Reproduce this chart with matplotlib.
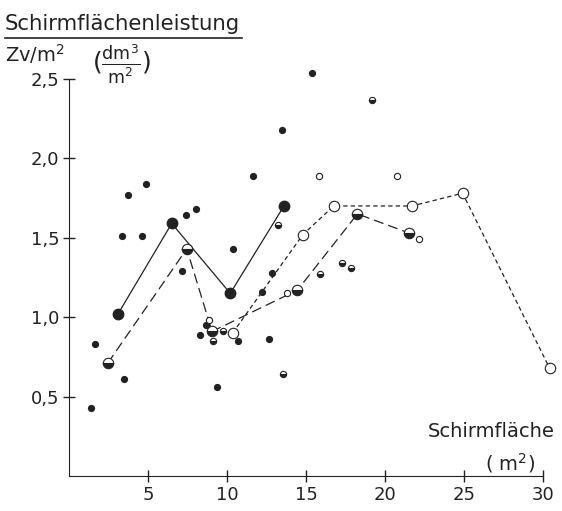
import numpy as np
import matplotlib.pyplot as plt
from matplotlib.lines import Line2D

# mean curves (large markers)
x_full = [3.1, 6.5, 10.2, 13.6]
y_full = [1.02, 1.59, 1.15, 1.70]

x_half = [2.45, 7.45, 9.05, 14.45, 18.25, 21.5]
y_half = [0.71, 1.43, 0.91, 1.17, 1.65, 1.53]

x_open = [10.35, 14.8, 16.75, 21.7, 24.9, 30.4]
y_open = [0.90, 1.52, 1.70, 1.70, 1.78, 0.68]

# single values (small markers)
xs_full = [1.37, 1.63, 3.34, 3.72, 3.50, 4.85, 4.64, 7.41, 8.04, 7.13, 10.38,
           11.65, 13.46, 15.40, 8.65, 10.72, 12.68, 9.35, 12.20, 12.85, 8.29]
ys_full = [0.43, 0.83, 1.51, 1.77, 0.61, 1.84, 1.51, 1.64, 1.68, 1.29, 1.43,
           1.89, 2.18, 2.54, 0.95, 0.85, 0.86, 0.56, 1.16, 1.28, 0.89]

xs_half = [9.13, 9.77, 13.56, 13.25, 19.2, 15.89, 17.30, 17.83]
ys_half = [0.85, 0.91, 0.64, 1.58, 2.37, 1.27, 1.34, 1.31]

xs_open = [8.88, 13.78, 15.80, 20.72, 22.15]
ys_open = [0.98, 1.15, 1.89, 1.89, 1.49]

yticks = [0.5, 1.0, 1.5, 2.0, 2.5]
ytick_labels = ['0,5', '1,0', '1,5', '2,0', '2,5']
xticks = [5, 10, 15, 20, 25, 30]

plt.rcParams['font.family'] = 'DejaVu Sans'
fig = plt.figure(figsize=(5.62, 5.11), dpi=100)
ax = fig.add_axes([69/562, 35/511, 490/562, 413/511])
ax.set_xlim(0, 31)
ax.set_ylim(0, 2.6)

ink = '#222222'
ax.plot(x_full, y_full, '-', color=ink, lw=0.9, marker='o', ms=7.5,
        mfc=ink, mec=ink, zorder=3)
ax.plot(x_half, y_half, color=ink, lw=0.9, dashes=(8, 4), marker='o', ms=7.5,
        fillstyle='bottom', mfc=ink, mfcalt='white', mec=ink, mew=0.8, zorder=3)
ax.plot(x_open, y_open, color=ink, lw=0.9, dashes=(3.5, 2.5), marker='o', ms=7.5,
        mfc='white', mec=ink, mew=0.8, zorder=3, clip_on=False)

ax.plot(xs_full, ys_full, 'o', color=ink, ms=4.2, zorder=4)
ax.plot(xs_half, ys_half, 'o', ms=4.5, fillstyle='bottom', mfc=ink,
        mfcalt='white', mec=ink, mew=0.8, zorder=4)
ax.plot(xs_open, ys_open, 'o', ms=4.5, mfc='white', mec=ink, mew=0.8, zorder=4)

for s in ['top', 'right']:
    ax.spines[s].set_visible(False)
ax.spines['left'].set_bounds(0, 2.5)
ax.spines['bottom'].set_bounds(0, 30)
ax.spines['left'].set_color(ink)
ax.spines['bottom'].set_color(ink)

ax.set_yticks(yticks)
ax.set_yticklabels(ytick_labels, fontsize=13, color=ink)
ax.set_xticks(xticks)
ax.set_xticklabels([str(t) for t in xticks], fontsize=13, color=ink)
ax.tick_params(direction='inout', length=8, width=1, color=ink, pad=3)

fig.text(5/562, 1 - 30/511, 'Schirmflächenleistung', fontsize=15.3, color=ink,
         va='baseline')
fig.add_artist(Line2D([5/562, 242/562], [1 - 38/511, 1 - 38/511], color=ink, lw=1.2))
fig.text(5/562, 1 - 62/511, 'Zv/m$^2$', fontsize=14, color=ink, va='baseline')
fig.text(92/562, 1 - 64/511, r'$(\frac{\mathrm{dm}^3}{\mathrm{m}^2})$', fontsize=18,
         color=ink, va='center')

fig.text(555/562, 1 - 437/511, 'Schirmfläche', fontsize=14, color=ink,
         ha='right', va='baseline')
fig.text(535/562, 1 - 470/511, '( m$^2$)', fontsize=14, color=ink,
         ha='right', va='baseline')

fig.savefig('out.png', dpi=100)
